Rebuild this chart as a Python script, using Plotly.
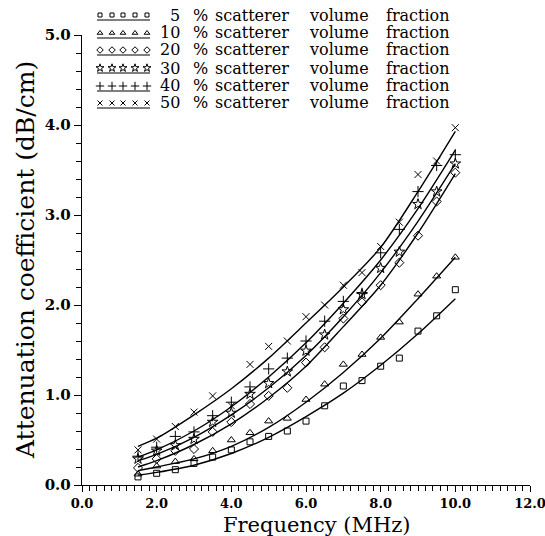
import plotly.graph_objects as go

# ---- data ----
freq = [1.5, 2.0, 2.5, 3.0, 3.5, 4.0, 4.5, 5.0, 5.5, 6.0, 6.5, 7.0, 7.5, 8.0, 8.5, 9.0, 9.5, 10.0]
att_5 = [0.09, 0.13, 0.17, 0.24, 0.31, 0.39, 0.48, 0.54, 0.60, 0.71, 0.88, 1.10, 1.16, 1.32, 1.41, 1.71, 1.88, 2.17]
att_10 = [0.12, 0.21, 0.26, 0.29, 0.38, 0.50, 0.58, 0.71, 0.74, 0.95, 1.12, 1.34, 1.45, 1.64, 1.81, 2.12, 2.32, 2.53]
att_20 = [0.19, 0.29, 0.38, 0.40, 0.59, 0.70, 0.90, 0.99, 1.08, 1.36, 1.53, 1.85, 2.03, 2.22, 2.47, 2.77, 3.15, 3.47]
att_30 = [0.29, 0.38, 0.44, 0.51, 0.70, 0.80, 1.01, 1.13, 1.26, 1.49, 1.67, 1.95, 2.12, 2.41, 2.59, 3.12, 3.26, 3.57]
att_40 = [0.32, 0.42, 0.54, 0.59, 0.77, 0.92, 1.09, 1.29, 1.41, 1.60, 1.82, 2.04, 2.13, 2.58, 2.84, 3.26, 3.55, 3.67]
att_50 = [0.39, 0.51, 0.65, 0.81, 0.99, 0.88, 1.34, 1.54, 1.60, 1.87, 2.00, 2.22, 2.36, 2.65, 2.92, 3.45, 3.60, 3.97]

# fitted curves, read at these frequencies
fit_freq = [1.5, 2.0, 3.0, 4.0, 5.0, 6.0, 7.0, 8.0, 9.0, 10.0]
fit_5 = [0.11, 0.14, 0.22, 0.35, 0.53, 0.76, 1.02, 1.33, 1.68, 2.07]
fit_10 = [0.16, 0.20, 0.29, 0.43, 0.64, 0.92, 1.25, 1.63, 2.07, 2.53]
fit_20 = [0.20, 0.27, 0.45, 0.68, 0.97, 1.32, 1.76, 2.22, 2.80, 3.46]
fit_30 = [0.27, 0.34, 0.53, 0.78, 1.08, 1.44, 1.87, 2.36, 2.93, 3.57]
fit_40 = [0.31, 0.39, 0.60, 0.87, 1.20, 1.58, 2.02, 2.50, 3.07, 3.72]
fit_50 = [0.43, 0.52, 0.78, 1.07, 1.41, 1.80, 2.20, 2.64, 3.26, 3.93]

fractions = ["5", "10", "20", "30", "40", "50"]
x_ticks = [0, 2, 4, 6, 8, 10, 12]
x_ticklabels = ["0.0", "2.0", "4.0", "6.0", "8.0", "10.0", "12.0"]
y_ticks = [0, 1, 2, 3, 4, 5]
y_ticklabels = ["0.0", "1.0", "2.0", "3.0", "4.0", "5.0"]

series = [att_5, att_10, att_20, att_30, att_40, att_50]
fits = [fit_5, fit_10, fit_20, fit_30, fit_40, fit_50]
symbols = ["square-open", "triangle-up-open", "diamond-open", "star-open", "cross-thin", "x-thin"]
sizes = [6, 7, 7, 8, 8, 7]

W, H = 545, 536
L, R, T, B = 82, 530, 35, 485  # plot area in pixels
FONT = "DejaVu Serif"

fig = go.Figure()
for y, f, sym, sz in zip(series, fits, symbols, sizes):
    fig.add_trace(go.Scatter(x=fit_freq, y=f, mode="lines",
                             line=dict(color="black", width=1.4, shape="spline", smoothing=0.8),
                             showlegend=False, hoverinfo="skip"))
    fig.add_trace(go.Scatter(x=freq, y=y, mode="markers",
                             marker=dict(symbol=sym, size=sz, color="black", line=dict(color="black", width=1)),
                             showlegend=False))

# ---- hand-built legend (independent full-figure pixel axis) ----
row_y = [15, 33, 50, 68, 86, 103]
sample_x = [100, 112, 123, 135, 147]
tf = dict(family=FONT, size=16, color="black")
for i, (lab, sym, sz) in enumerate(zip(fractions, symbols, sizes)):
    ry = row_y[i]
    fig.add_trace(go.Scatter(x=sample_x, y=[ry] * 5, mode="markers", xaxis="x2", yaxis="y2",
                             marker=dict(symbol=sym, size=sz - 2, color="black", line=dict(color="black", width=1)),
                             showlegend=False, hoverinfo="skip", cliponaxis=False))
    fig.add_shape(type="line", xref="paper", yref="paper", x0=97 / W, x1=150 / W,
                  y0=1 - (ry + 5) / H, y1=1 - (ry + 5) / H, line=dict(color="black", width=1.2))
    for xp, txt, anc in [(182, lab, "right"), (200, "%", "center"), (213, "scatterer", "left"),
                         (307, "volume", "left"), (384, "fraction", "left")]:
        fig.add_annotation(xref="paper", yref="paper", x=xp / W, y=1 - ry / H, text=txt,
                           xanchor=anc, yanchor="middle", showarrow=False, font=tf)

# axis titles
fig.add_annotation(xref="paper", yref="paper", x=317 / W, y=1 - 525 / H, text="Frequency (MHz)", showarrow=False,
                   font=dict(family=FONT, size=21, color="black"), xanchor="center", yanchor="middle")
fig.add_annotation(xref="paper", yref="paper", x=25 / W, y=1 - 260 / H, text="Attenuation coefficient (dB/cm)",
                   showarrow=False, textangle=-90, font=dict(family=FONT, size=25, color="black"),
                   xanchor="center", yanchor="middle")

fig.update_layout(
    width=W, height=H,
    margin=dict(l=0, r=0, t=0, b=0, autoexpand=False),
    paper_bgcolor="white", plot_bgcolor="rgba(0,0,0,0)",
    showlegend=False,
    xaxis=dict(domain=[L / W, R / W], range=[0, 12], tickvals=x_ticks,
               ticktext=["<b>%s</b>" % t for t in x_ticklabels],
               ticks="outside", ticklen=6, tickwidth=1.2, tickcolor="black",
               minor=dict(dtick=0.2, ticks="outside", ticklen=5, tickwidth=1, tickcolor="black"),
               showline=True, linecolor="black", linewidth=1.4, showgrid=False, zeroline=False,
               tickfont=dict(family=FONT, size=13, color="black"), ticklabeloverflow="allow",
               anchor="y", automargin=False),
    yaxis=dict(domain=[1 - B / H, 1 - T / H], range=[0, 5], tickvals=y_ticks,
               ticktext=["<b>%s</b>" % t for t in y_ticklabels],
               ticks="outside", ticklen=7, tickwidth=1.2, tickcolor="black",
               minor=dict(dtick=0.2, ticks="outside", ticklen=5, tickwidth=1, tickcolor="black"),
               showline=True, linecolor="black", linewidth=1.4, showgrid=False, zeroline=False,
               tickfont=dict(family=FONT, size=15, color="black"), ticklabeloverflow="allow",
               anchor="x", automargin=False),
    xaxis2=dict(domain=[0, 1], range=[0, W], anchor="y2", visible=False, fixedrange=True, automargin=False),
    yaxis2=dict(domain=[0, 1], range=[H, 0], anchor="x2", visible=False, fixedrange=True, automargin=False),
)

fig.write_html("out.html", config={"displayModeBar": False},
               post_script="document.body.style.margin='0';document.body.style.overflow='hidden';")
